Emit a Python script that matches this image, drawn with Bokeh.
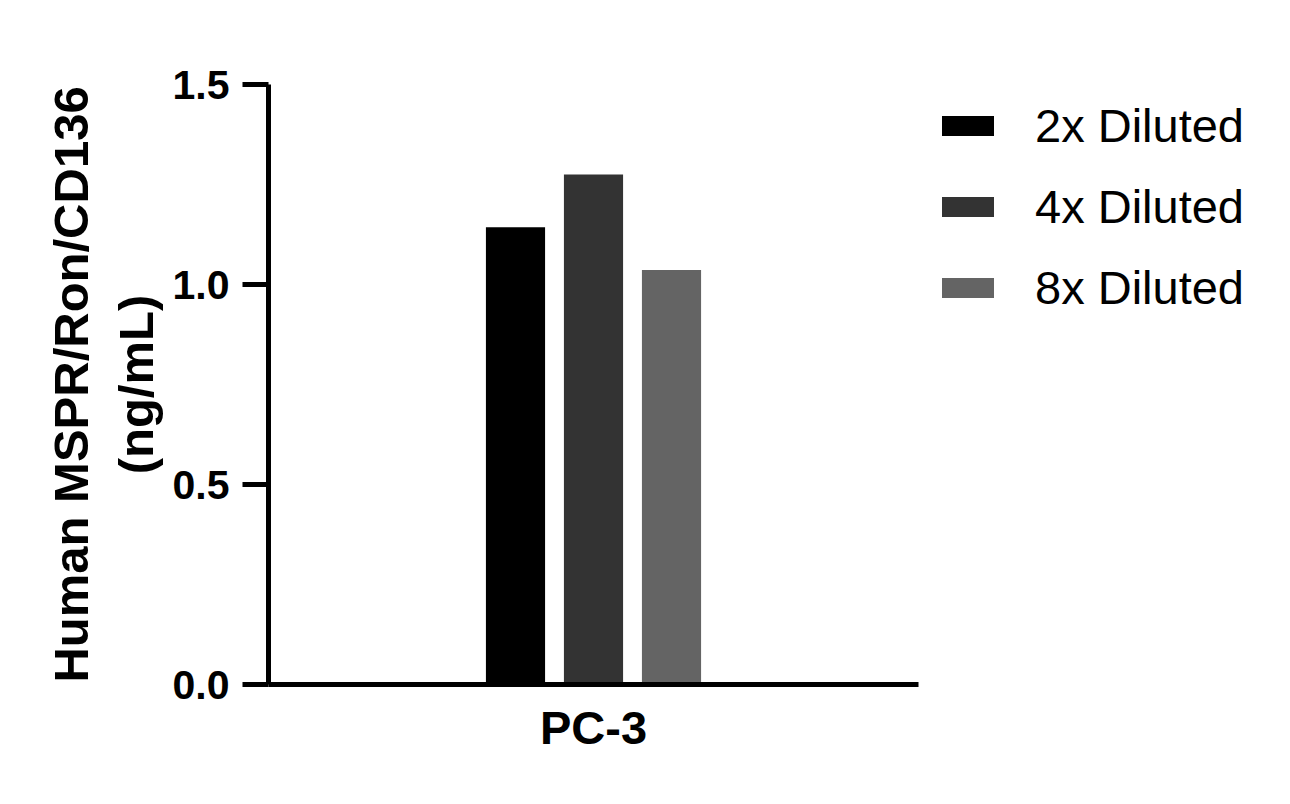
from bokeh.plotting import figure
from bokeh.models import (ColumnDataSource, FactorRange, Range1d, Legend, LegendItem,
                          FixedTicker, NumeralTickFormatter)
from bokeh.transform import dodge
from bokeh.embed import file_html
from bokeh.resources import INLINE

# ---- data ----
categories = ["PC-3"]
series_names = ["2x Diluted", "4x Diluted", "8x Diluted"]
values_2x = [1.143]
values_4x = [1.275]
values_8x = [1.036]
series_colors = ["#000000", "#333333", "#646464"]
y_ticks = [0.0, 0.5, 1.0, 1.5]
y_title = "Human MSPR/Ron/CD136\n(ng/mL)"

FONT = "Liberation Sans"

source = ColumnDataSource(data=dict(x=categories, s2=values_2x, s4=values_4x, s8=values_8x))

p = figure(frame_width=650, frame_height=600, output_backend="svg", toolbar_location=None,
           x_range=FactorRange(factors=categories, range_padding=0),
           y_range=Range1d(0, 1.5),
           min_border_left=268, min_border_right=0, min_border_top=84, min_border_bottom=104)

offsets = [-0.12, 0.0, 0.12]
cols = ["s2", "s4", "s8"]
renderers = []
for col, off, color in zip(cols, offsets, series_colors):
    r = p.vbar(x=dodge("x", off, range=p.x_range), top=col, width=0.091, source=source,
               fill_color=color, line_color=None)
    renderers.append(r)

legend = Legend(items=[LegendItem(label=n, renderers=[r]) for n, r in zip(series_names, renderers)],
                location=(17, 367), margin=17, padding=0, spacing=21,
                glyph_width=65, glyph_height=25, label_standoff=35, label_height=60,
                label_text_font=FONT, label_text_font_size="47px", label_text_color="black",
                border_line_color=None, background_fill_alpha=0)
p.add_layout(legend, "right")

# styling
p.grid.visible = False
p.outline_line_color = None
p.background_fill_color = "white"

ya = p.yaxis[0]
ya.ticker = FixedTicker(ticks=y_ticks)
ya.formatter = NumeralTickFormatter(format="0.0")
ya.axis_line_width = 5
ya.major_tick_line_width = 5
ya.major_tick_out = 26
ya.major_tick_in = 0
ya.minor_tick_line_color = None
ya.major_label_standoff = 13
ya.major_label_text_font = FONT
ya.major_label_text_font_size = "41px"
ya.major_label_text_font_style = "bold"
ya.major_label_text_color = "black"
ya.axis_label = y_title
ya.axis_label_text_font = FONT
ya.axis_label_text_font_size = "49px"
ya.axis_label_text_font_style = "bold"
ya.axis_label_text_color = "black"
ya.axis_label_standoff = 7

xa = p.xaxis[0]
xa.axis_line_width = 5
xa.major_tick_out = 0
xa.major_tick_in = 0
xa.major_tick_line_color = None
xa.minor_tick_line_color = None
xa.major_label_standoff = 16
xa.major_label_text_font = FONT
xa.major_label_text_font_size = "47px"
xa.major_label_text_font_style = "bold"
xa.major_label_text_color = "black"

open("out.html", "w").write(file_html(p, INLINE))
